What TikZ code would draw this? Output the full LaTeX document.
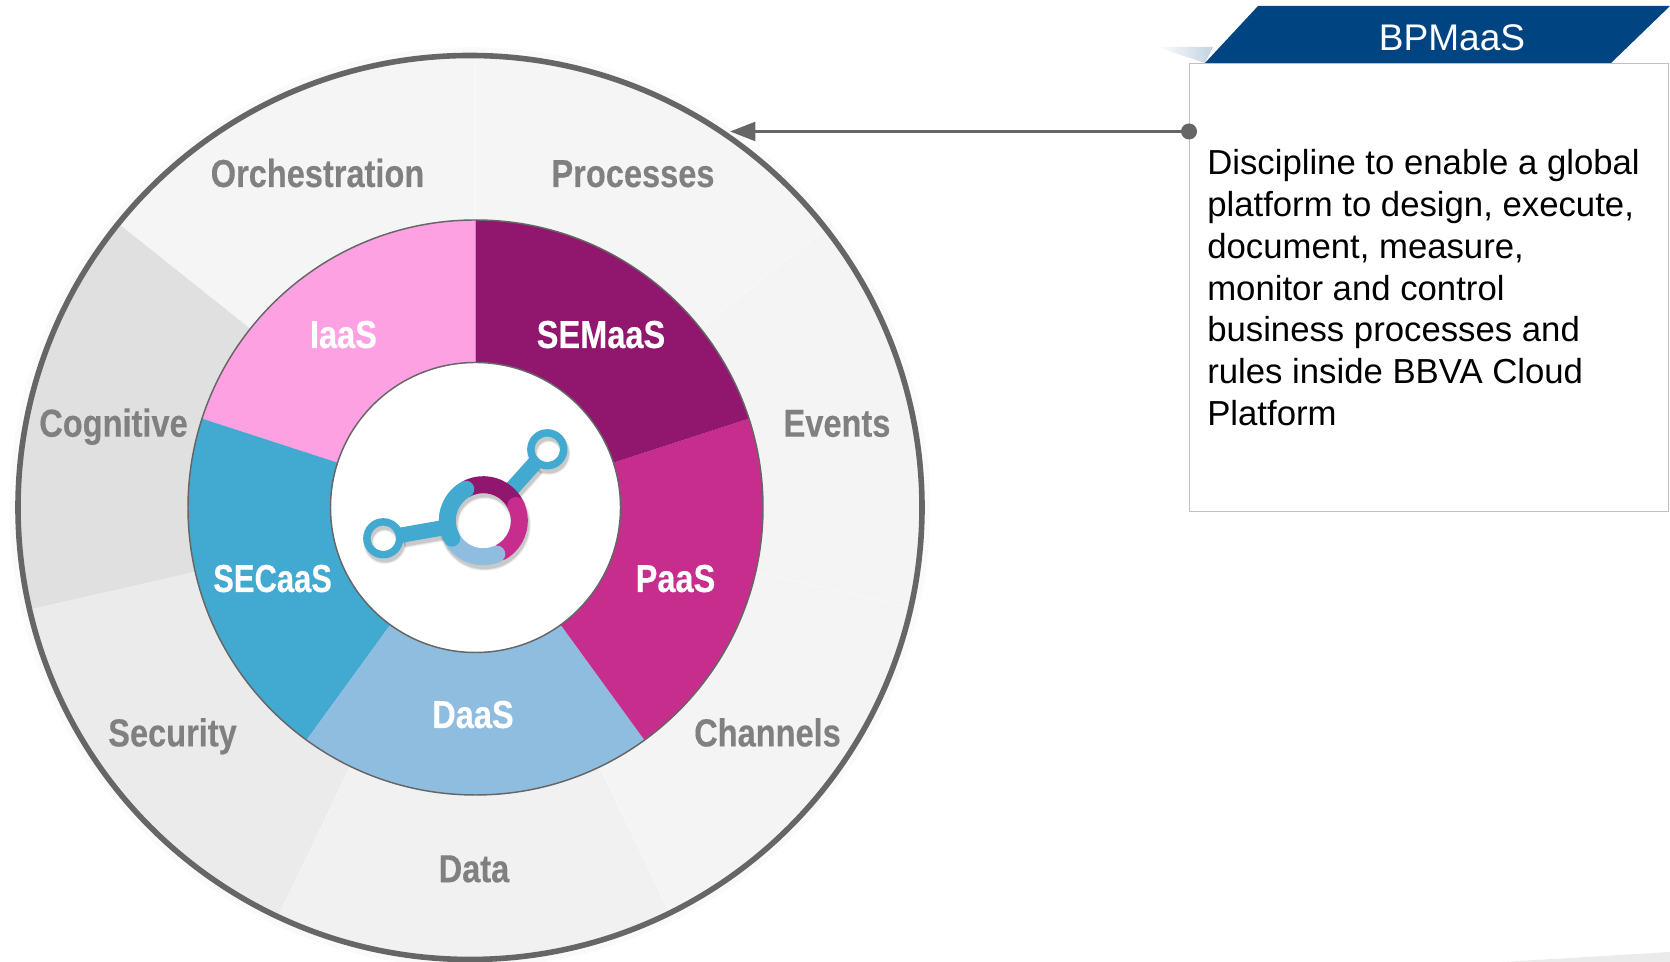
\documentclass[tikz,border=0pt]{standalone}
\usepackage{fontspec}
\usepackage{graphicx}
\setmainfont{Liberation Sans}
\newfontfamily\condfont[FakeStretch=0.835,BoldFeatures={FakeBold=0.3}]{Liberation Sans}
\usetikzlibrary{arrows.meta}
\definecolor{ringgray}{HTML}{666666}
\definecolor{labelgray}{HTML}{808080}
\definecolor{cSem}{HTML}{91166E}
\definecolor{cPaa}{HTML}{C62D8C}
\definecolor{cDaa}{HTML}{8EBDE0}
\definecolor{cSec}{HTML}{42A9D0}
\definecolor{cIaa}{HTML}{FEA1E3}
\definecolor{bannerblue}{HTML}{004481}
\definecolor{foldblue}{HTML}{C3D2E2}
\newcommand{\annsec}[3]{\fill[#1] (#2:145) arc[start angle=#2,end angle=#3,radius=145] -- (#3:287.5) arc[start angle=#3,end angle=#2,radius=287.5] -- cycle;}
\newcommand{\outsec}[3]{\fill[#1] (0,0) -- (#2:600) -- (#3:600) -- cycle;}
\newcommand{\logoshadow}[2]{%
  \draw[black,opacity=#2,line width=12.75pt+#1] (483.3,441.3) circle[radius=36];
  \draw[black,opacity=#2,line width=5.6pt+#1] (547.3,512.7) circle[radius=16.4];
  \draw[black,opacity=#2,line width=5.6pt+#1] (383.3,423.7) circle[radius=16.4];
  \draw[black,opacity=#2,line width=11.5pt+#1,shorten <=30pt,shorten >=14pt] (483.3,441.3) -- (547.3,512.7);
  \draw[black,opacity=#2,line width=11.5pt+#1,shorten <=30pt,shorten >=14pt] (483.3,441.3) -- (383.3,423.7);
}
\tikzset{
  x=.75pt,y=.75pt,
  outlabel/.style={anchor=base,inner sep=0,text=labelgray,font=\condfont\bfseries\fontsize{29.25}{32}\selectfont},
  inlabel/.style={anchor=base,inner sep=0,text=white,font=\condfont\bfseries\fontsize{29.25}{32}\selectfont},
  seam/.style={draw=white,draw opacity=.28,line width=.8pt},
  stem/.style={draw=cSec,line width=11.5pt,shorten <=27pt,shorten >=12pt},
  seg/.style={line width=12.75pt},
}
\begin{document}
\begin{tikzpicture}
\useasboundingbox (0,0) rectangle (1670,962);
% bottom right corner sliver
\fill[fill=black!8] (1503,0) -- (1670,10) -- (1670,0) -- cycle;
% outer disc
\draw[line width=8pt,color=black!2] (470,454.5) circle[radius=455];
\begin{scope}
  \clip (470,454.5) circle[radius=452];
  \begin{scope}[shift={(475,454)}]
    \outsec{black!4}{90}{141.43}
    \outsec{black!12}{141.43}{192.86}
    \outsec{black!8}{192.86}{244.29}
    \outsec{black!5.5}{244.29}{295.71}
    \outsec{black!4.5}{295.71}{347.14}
    \outsec{black!4.5}{347.14}{398.57}
    \outsec{black!4}{38.57}{90}
    \draw[seam] (0,0) -- (90:600);
    \draw[seam] (0,0) -- (38.57:600);
    \draw[seam] (0,0) -- (347.14:600);
    \draw[seam] (0,0) -- (295.71:600);
    \draw[seam] (0,0) -- (244.29:600);
  \end{scope}
\end{scope}
\draw[line width=4.2pt,color=ringgray] (470,454.5) circle[radius=452];
% coloured ring
\begin{scope}[shift={(475.5,454.5)}]
  \annsec{cIaa}{90}{162}
  \annsec{cSec}{162}{234}
  \annsec{cDaa}{234}{306}
  \annsec{cPaa}{306}{378}
  \annsec{cSem}{18}{90}
  \draw[ringgray,line width=1.1pt] (0,0) circle[radius=287.5];
  \draw[ringgray,line width=1.1pt,fill=white] (0,0) circle[radius=145];
\end{scope}
% logo: soft shadow
\begin{scope}[shift={(1.5,-4)}]
  \logoshadow{2.5pt}{.05}
  \logoshadow{1.2pt}{.07}
  \logoshadow{0pt}{.10}
\end{scope}
% logo: stems, rings, segments
\coordinate (ringc) at (483.3,441.3);
\coordinate (topc) at (547.3,512.7);
\coordinate (leftc) at (383.3,423.7);
\draw[stem] (ringc) -- (topc);
\draw[stem] (ringc) -- (leftc);
\draw[cSec,line width=5.6pt] (topc) circle[radius=16.4];
\draw[cSec,line width=5.6pt] (leftc) circle[radius=16.4];
\begin{scope}[shift={(483.3,441.3)}]
  \draw[seg,cSem] (119:36) arc[start angle=119,end angle=20,radius=36];
  \draw[seg,cPaa,line cap=round] (25:36) arc[start angle=25,end angle=-60,radius=36];
  \draw[seg,cDaa,line cap=round] (215:36) arc[start angle=215,end angle=292,radius=36];
  \draw[seg,cSec,line cap=round] (119:36) arc[start angle=119,end angle=209,radius=36];
\end{scope}
% outer labels
\node[outlabel] (orch) at (317.5,775) {Orchestration};
\node[outlabel] (proc) at (633,775) {Processes};
\node[outlabel] (cogn) at (113.5,525.3) {Cognitive};
\node[outlabel] (even) at (837,525.3) {Events};
\node[outlabel] (secu) at (172.5,215.6) {Security};
\node[outlabel] (chan) at (767.5,215.6) {Channels};
\node[outlabel] (data) at (474,79.8) {Data};
% ring labels
\node[inlabel] (iaas) at (343.5,614) {IaaS};
\node[inlabel] (sema) at (601,614) {SEMaaS};
\node[inlabel] (seca) at (272.6,370) {\scalebox{.95}[1]{SECaaS}};
\node[inlabel] (paas) at (675.5,370) {PaaS};
\node[inlabel] (daas) at (473,234) {DaaS};
% card
\shade[left color=white,right color=foldblue] (1156,915) -- (1213,915) -- (1205,899) -- cycle;
\fill[bannerblue] (1258,956) -- (1670,956) -- (1611,899) -- (1205,899) -- cycle;
\node[anchor=base,inner sep=0,text=white,font=\fontsize{27.8}{30}\selectfont] (title) at (1452,911.5) {BPMaaS};
\node[draw=black!25,line width=1.1pt,fill=white,rectangle,minimum width=479*.75pt,minimum height=448*.75pt,anchor=north west,inner sep=0] (card) at (1189,899) {};
\node[anchor=north west,inner sep=0,align=left,font=\fontsize{26.05}{31.4}\selectfont] (body) at (1207,813) {Discipline to enable a global\\platform to design, execute,\\document, measure,\\monitor and control\\business processes and\\rules inside BBVA Cloud\\Platform};
% connector
\coordinate (dot) at (1189,830.5);
\coordinate (tip) at (730,830.5);
\draw[ringgray,line width=2.6pt,-{Triangle[length=19pt,width=14pt]}] (dot) -- (tip);
\fill[ringgray] (dot) circle[radius=8];
\end{tikzpicture}
\end{document}
